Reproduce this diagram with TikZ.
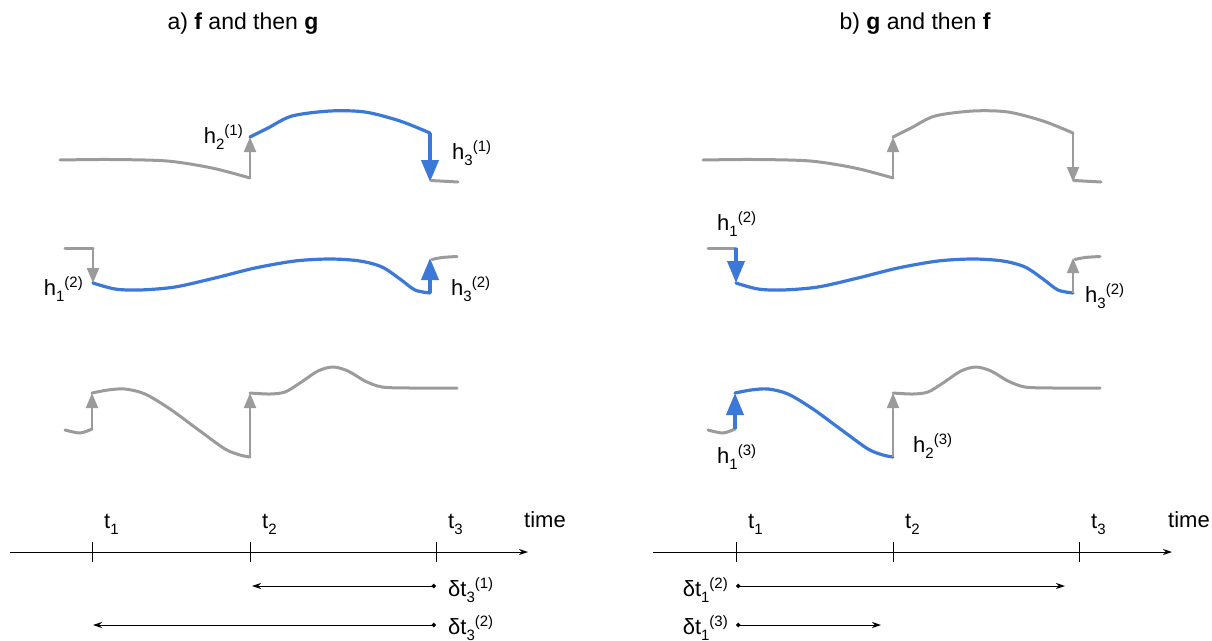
\documentclass[tikz,border=0pt]{standalone}
\usepackage{fontspec}
\setmainfont{Liberation Sans}
\usetikzlibrary{arrows.meta}
\definecolor{gr}{HTML}{9B9B9B}
\definecolor{bl}{HTML}{3C78D8}
\newcommand{\hsub}[3]{#1\raisebox{-6.5pt}{\fontsize{15}{15}\selectfont #2}\raisebox{7.5pt}{\fontsize{15}{15}\selectfont (#3)}}
\newcommand{\tsub}[2]{#1\raisebox{-6.5pt}{\fontsize{15}{15}\selectfont #2}}
\begin{document}
\begin{tikzpicture}[x=1pt,y=-1pt,
  font=\fontsize{22}{26}\selectfont,
  gcurve/.style={draw=gr, line width=3pt, line join=round, line cap=round},
  bcurve/.style={draw=bl, line width=3.2pt, line join=round, line cap=round},
  garr/.style={draw=gr, line width=2pt, -{Triangle[length=15pt,width=12pt]}},
  barr/.style={draw=bl, line width=4pt, -{Triangle[length=22pt,width=17pt]}},
  axisline/.style={draw=black, line width=1pt, -{Stealth[length=9pt,width=6pt]}},
  tickmark/.style={draw=black, line width=1pt},
  dtarr/.style={draw=black, line width=1pt, {Circle[length=4.5pt]}-{Stealth[length=9pt,width=6pt]}},
  lbl/.style={inner sep=0pt, text=black},
  ttl/.style={inner sep=0pt, text=black, font=\fontsize{23}{27}\selectfont}
]
\useasboundingbox (0,0) rectangle (1212,640);

% ================= Panel a =================
\node[ttl, anchor=base] (ta) at (243,29) {a) \textbf{f} and then \textbf{g}};

% row 1
\coordinate (a1p) at (250,178); \coordinate (a1q) at (250,137);
\coordinate (a1r) at (430,133); \coordinate (a1s) at (430,182);
\draw[gcurve] plot[smooth] coordinates {(60,160) (110,159.5) (167,161) (212,168) (250,178)};
\draw[garr] (a1p) -- (a1q);
\draw[bcurve] plot[smooth] coordinates {(250,137) (268,128) (292,116) (330,111) (365,112) (400,121) (430,133)};
\draw[barr] (a1r) -- (a1s);
\draw[gcurve] (431,180.5) -- (458,182);
\node[lbl, anchor=base east] (a1h2) at (243,143) {\hsub{h}{2}{1}};
\node[lbl, anchor=base west] (a1h3) at (452,159) {\hsub{h}{3}{1}};

% row 2
\coordinate (a2p) at (93,248); \coordinate (a2q) at (93,283);
\coordinate (a2r) at (430,293); \coordinate (a2s) at (430,258);
\draw[gcurve] (65,248) -- (a2p);
\draw[garr] (a2p) -- (a2q);
\draw[bcurve] plot[smooth] coordinates {(93,283) (115,289) (140,290) (175,287) (215,278) (255,268) (295,261) (330,259) (360,261) (382,267) (400,279) (415,290) (430,293)};
\draw[barr] (a2r) -- (a2s);
\draw[gcurve] plot[smooth] coordinates {(432,259.5) (442,257.5) (457,256.5)};
\node[lbl, anchor=base east] (a2h1) at (83,295) {\hsub{h}{1}{2}};
\node[lbl, anchor=base west] (a2h3) at (451,295) {\hsub{h}{3}{2}};

% row 3
\coordinate (a3p) at (92,429); \coordinate (a3q) at (92,393);
\coordinate (a3r) at (250,457); \coordinate (a3s) at (250,393);
\draw[gcurve] plot[smooth] coordinates {(65,430) (80,433) (92,429)};
\draw[garr] (a3p) -- (a3q);
\draw[gcurve] plot[smooth] coordinates {(92,393) (108,390) (125,389) (145,394) (170,409) (200,431) (225,449) (240,455) (250,457)};
\draw[garr] (a3r) -- (a3s);
\draw[gcurve] plot[smooth] coordinates {(250,393) (270,394) (285,392) (300,383) (318,371) (333,367) (348,371) (365,381) (382,387) (410,388) (457,388)};

% timeline
\coordinate (aax0) at (10,552); \coordinate (aax1) at (528,552);
\draw[axisline] (aax0) -- (aax1);
\foreach \x/\n in {92/1,250/2,436/3}{
  \draw[tickmark] (\x,542) -- (\x,562);
  \node[lbl, anchor=base west] (at\n) at (\x+12,528) {\tsub{t}{\n}};
}
\node[lbl, anchor=base west] (atime) at (524,527) {time};
\coordinate (ad1s) at (436,586); \coordinate (ad1e) at (252,586);
\coordinate (ad2s) at (436,625); \coordinate (ad2e) at (93,625);
\draw[dtarr] (ad1s) -- (ad1e);
\draw[dtarr] (ad2s) -- (ad2e);
\node[lbl, anchor=base west] (ad1) at (448,596) {\hsub{δt}{3}{1}};
\node[lbl, anchor=base west] (ad2) at (448,634) {\hsub{δt}{3}{2}};

% ================= Panel b =================
\begin{scope}[xshift=643pt]
\node[ttl, anchor=base] (tb) at (272,29) {b) \textbf{g} and then \textbf{f}};

% row 1
\coordinate (b1p) at (250,178); \coordinate (b1q) at (250,137);
\coordinate (b1r) at (430,133); \coordinate (b1s) at (430,182);
\draw[gcurve] plot[smooth] coordinates {(60,160) (110,159.5) (167,161) (212,168) (250,178)};
\draw[garr] (b1p) -- (b1q);
\draw[gcurve] plot[smooth] coordinates {(250,137) (268,128) (292,116) (330,111) (365,112) (400,121) (430,133)};
\draw[garr] (b1r) -- (b1s);
\draw[gcurve] (431,180.5) -- (458,182);

% row 2
\coordinate (b2p) at (93,248); \coordinate (b2q) at (93,283);
\coordinate (b2r) at (430,293); \coordinate (b2s) at (430,258);
\draw[gcurve] (65,248) -- (b2p);
\draw[barr] (b2p) -- (b2q);
\draw[bcurve] plot[smooth] coordinates {(93,283) (115,289) (140,290) (175,287) (215,278) (255,268) (295,261) (330,259) (360,261) (382,267) (400,279) (415,290) (430,293)};
\draw[garr] (b2r) -- (b2s);
\draw[gcurve] plot[smooth] coordinates {(432,259.5) (442,257.5) (457,256.5)};
\node[lbl, anchor=base west] (b2h1) at (74,230) {\hsub{h}{1}{2}};
\node[lbl, anchor=base west] (b2h3) at (442,302) {\hsub{h}{3}{2}};

% row 3
\coordinate (b3p) at (92,429); \coordinate (b3q) at (92,393);
\coordinate (b3r) at (250,457); \coordinate (b3s) at (250,393);
\draw[gcurve] plot[smooth] coordinates {(65,430) (80,433) (92,429)};
\draw[barr] (b3p) -- (b3q);
\draw[bcurve] plot[smooth] coordinates {(92,393) (108,390) (125,389) (145,394) (170,409) (200,431) (225,449) (240,455) (250,457)};
\draw[garr] (b3r) -- (b3s);
\draw[gcurve] plot[smooth] coordinates {(250,393) (270,394) (285,392) (300,383) (318,371) (333,367) (348,371) (365,381) (382,387) (410,388) (457,388)};
\node[lbl, anchor=base west] (b3h1) at (74,463) {\hsub{h}{1}{3}};
\node[lbl, anchor=base west] (b3h2) at (270,452) {\hsub{h}{2}{3}};

% timeline
\coordinate (bax0) at (10,552); \coordinate (bax1) at (529,552);
\draw[axisline] (bax0) -- (bax1);
\foreach \x/\n in {93/1,250/2,436/3}{
  \draw[tickmark] (\x,542) -- (\x,562);
  \node[lbl, anchor=base west] (bt\n) at (\x+12,528) {\tsub{t}{\n}};
}
\node[lbl, anchor=base west] (btime) at (525,527) {time};
\coordinate (bd1s) at (93,586); \coordinate (bd1e) at (422,586);
\coordinate (bd2s) at (93,625); \coordinate (bd2e) at (238,625);
\draw[dtarr] (bd1s) -- (bd1e);
\draw[dtarr] (bd2s) -- (bd2e);
\node[lbl, anchor=base east] (bd1) at (85,596) {\hsub{δt}{1}{2}};
\node[lbl, anchor=base east] (bd2) at (85,634) {\hsub{δt}{1}{3}};
\end{scope}
\end{tikzpicture}
\end{document}
